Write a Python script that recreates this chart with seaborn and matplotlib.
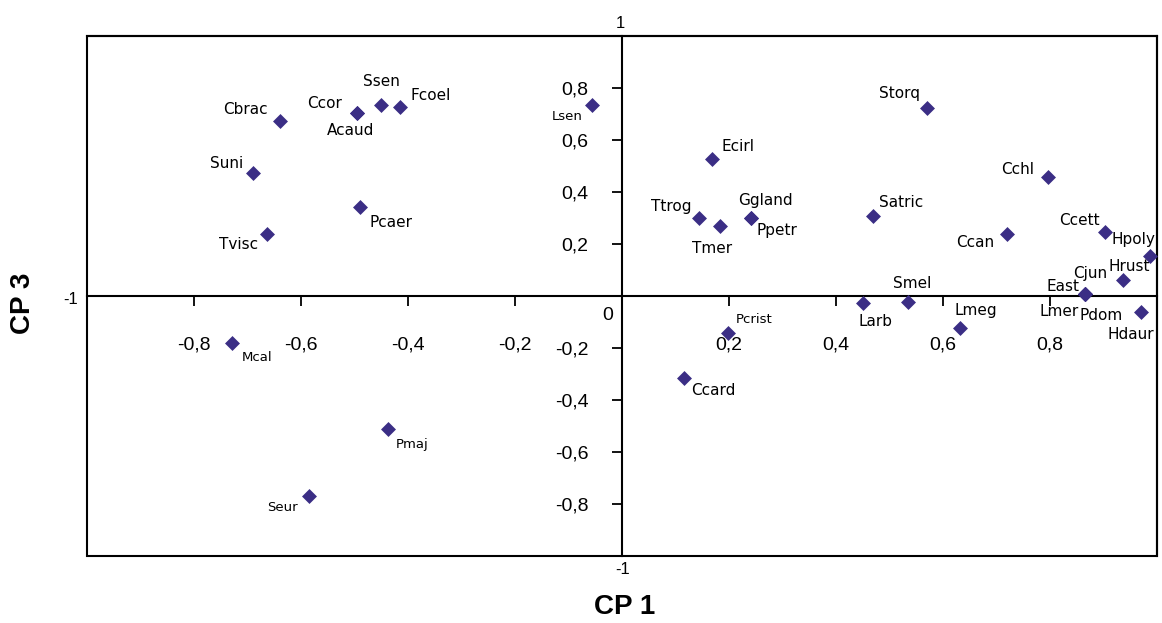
import pandas as pd
import matplotlib
matplotlib.use("Agg")
import matplotlib.pyplot as plt
import seaborn as sns
from matplotlib.patches import Rectangle

# species names and their scores on the two principal components
species = ["Cbrac", "Ccor", "Acaud", "Ssen", "Fcoel", "Suni", "Pcaer", "Tvisc",
           "Lsen", "Ecirl", "Ttrog", "Tmer", "Ggland", "Ppetr", "Storq", "Cchl",
           "Satric", "Ccan", "Ccett", "Hpoly", "Hrust", "Cjun", "East", "Lmer",
           "Pdom", "Hdaur", "Smel", "Larb", "Lmeg", "Mcal", "Seur", "Pmaj",
           "Pcrist", "Ccard"]
cp1 = [-0.640, -0.495, -0.495, -0.450, -0.415, -0.690, -0.489, -0.663,
       -0.056, 0.168, 0.143, 0.184, 0.242, 0.242, 0.571, 0.796,
       0.470, 0.719, 0.902, 0.987, 0.937, 0.865, 0.865, 0.865,
       0.865, 0.971, 0.534, 0.450, 0.631, -0.729, -0.585, -0.438,
       0.198, 0.115]
cp3 = [0.672, 0.703, 0.703, 0.736, 0.728, 0.474, 0.341, 0.239,
       0.733, 0.527, 0.300, 0.269, 0.300, 0.300, 0.725, 0.457,
       0.307, 0.237, 0.245, 0.153, 0.060, 0.006, 0.006, 0.006,
       0.006, -0.061, -0.022, -0.028, -0.123, -0.179, -0.768, -0.512,
       -0.144, -0.315]

tick_values = [-0.8, -0.6, -0.4, -0.2, 0.2, 0.4, 0.6, 0.8]
tick_labels = [f"{v:.1f}".replace(".", ",") for v in tick_values]

df = pd.DataFrame({"species": species, "CP1": cp1, "CP3": cp3})

# where each name sits relative to its diamond (pixels)
label_offsets = {
    "Cbrac": (-34, 12), "Ccor": (-33, 10), "Acaud": (-7, -17), "Ssen": (0, 23),
    "Fcoel": (31, 11), "Suni": (-26, 9), "Pcaer": (31, -15), "Tvisc": (-29, -11),
    "Lsen": (-25, -11), "Ecirl": (26, 12), "Ttrog": (-27, 11), "Tmer": (-8, -22),
    "Ggland": (14, 18), "Ppetr": (25, -13), "Storq": (-28, 14), "Cchl": (-30, 8),
    "Satric": (28, 14), "Ccan": (-31, -8), "Ccett": (-25, 12), "Hpoly": (-17, 17),
    "Hrust": (6, 14), "Cjun": (5, 21), "East": (-22, 8), "Lmer": (-26, -17),
    "Pdom": (16, -21), "Hdaur": (-11, -23), "Smel": (4, 18), "Larb": (13, -18),
    "Lmeg": (16, 17), "Mcal": (25, -15), "Seur": (-27, -12), "Pmaj": (24, -15),
    "Pcrist": (26, 14), "Ccard": (30, -13),
}
small_labels = {"Lsen", "Mcal", "Seur", "Pmaj", "Pcrist"}

sns.set_theme(style="white")
plt.rcParams["font.family"] = ["Liberation Sans", "DejaVu Sans"]
plt.rcParams["text.color"] = "black"

fig = plt.figure(figsize=(11.62, 6.23), dpi=100)
ax = fig.add_axes([87 / 1162, 67 / 623, 1070 / 1162, 520 / 623])

sns.scatterplot(data=df, x="CP1", y="CP3", marker="D", s=58, color="#3b2e85",
                linewidth=0, ax=ax, clip_on=False, zorder=3)

ax.set_xlim(-1, 1)
ax.set_ylim(-1, 1)

# axes cross at the origin, box around the whole plot
ax.spines["left"].set_position(("data", 0))
ax.spines["bottom"].set_position(("data", 0))
for s in ax.spines.values():
    s.set_color("black")
    s.set_linewidth(1.5)
ax.add_patch(Rectangle((0, 0), 1, 1, transform=ax.transAxes, fill=False,
                       edgecolor="black", linewidth=1.5, clip_on=False))

ax.set_xticks(tick_values)
ax.set_xticklabels(tick_labels)
ax.set_yticks(tick_values)
ax.set_yticklabels(tick_labels)
ax.tick_params(axis="x", direction="out", length=7, width=1.3, pad=22,
               labelsize=14, colors="black", bottom=True)
ax.tick_params(axis="y", direction="out", length=7, width=1.3, pad=17,
               labelsize=14, colors="black", left=True)
ax.set_xlabel("")
ax.set_ylabel("")

# end values of the axes and the origin
ax.annotate("1", (0, 1), xytext=(-2, 13), textcoords="offset pixels",
            ha="center", va="center", fontsize=12, annotation_clip=False)
ax.annotate("-1", (0, -1), xytext=(1, -14), textcoords="offset pixels",
            ha="center", va="center", fontsize=12, annotation_clip=False)
ax.annotate("-1", (-1, 0), xytext=(-16, -4), textcoords="offset pixels",
            ha="center", va="center", fontsize=12, annotation_clip=False)
ax.annotate("0", (0, 0), xytext=(-14, -19), textcoords="offset pixels",
            ha="center", va="center", fontsize=14, annotation_clip=False)

for _, row in df.iterrows():
    dx, dy = label_offsets[row["species"]]
    size = 9.5 if row["species"] in small_labels else 11
    ax.annotate(row["species"], (row["CP1"], row["CP3"]), xytext=(dx, dy),
                textcoords="offset pixels", ha="center", va="center",
                fontsize=size, family="DejaVu Sans", color="black",
                annotation_clip=False)

fig.text(625 / 1162, 1 - 607 / 623, "CP 1", ha="center", va="center",
         fontsize=20, fontweight="bold")
fig.text(23 / 1162, 1 - 303 / 623, "CP 3", ha="center", va="center",
         fontsize=20, fontweight="bold", rotation=90)

fig.savefig("out.png", dpi=100, facecolor="white")
plt.close(fig)
